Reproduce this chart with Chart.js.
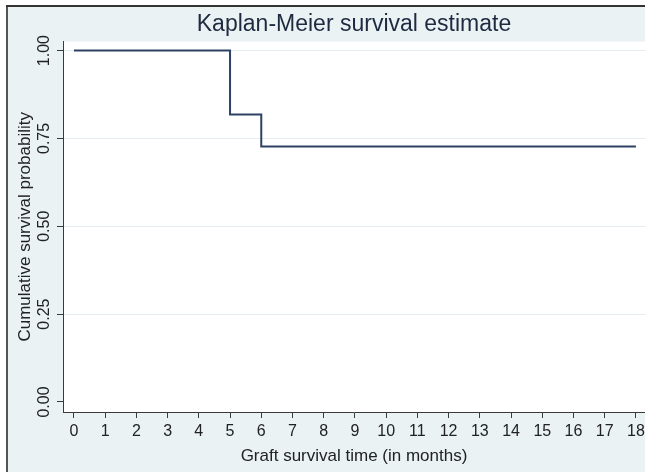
<!DOCTYPE html>
<html>
<head>
<meta charset="utf-8">
<title>Kaplan-Meier survival estimate</title>
<script src="https://cdn.jsdelivr.net/npm/chart.js@4.4.1/dist/chart.umd.min.js"></script>
<style>
    html, body { margin: 0; padding: 0; background: #ffffff; overflow: hidden; }
    canvas { display: block; }
</style>
</head>
<body>
<canvas id="kmChart" width="645" height="472"></canvas>
<script>
// Survival data (time in months, cumulative survival probability)
const eventTimes = [0, 5, 6, 18];
const survivalProb = [1.0, 0.818, 0.727, 0.727];

// Axis tick labels
const xTickValues = [0, 1, 2, 3, 4, 5, 6, 7, 8, 9, 10, 11, 12, 13, 14, 15, 16, 17, 18];
const yTickValues = [0, 0.25, 0.5, 0.75, 1.0];

const FONT_FAMILY = "'Liberation Sans', Arial, sans-serif";
const PANEL_BG = '#eaf2f4';
const AXIS_DARK = '#3a3a3a';

Chart.defaults.font.family = FONT_FAMILY;

// Paints the outer graph region, the white plot region and the frame
const backgroundPainter = {
    id: 'backgroundPainter',
    beforeDraw(chart) {
        const { ctx, width, height, chartArea } = chart;
        ctx.save();
        ctx.fillStyle = '#ffffff';
        ctx.fillRect(0, 0, width, height);
        ctx.fillStyle = PANEL_BG;
        ctx.fillRect(6, 6, width - 6, height - 6);
        ctx.fillStyle = '#ffffff';
        ctx.fillRect(chartArea.left, chartArea.top, chartArea.right - chartArea.left, chartArea.bottom - chartArea.top);
        ctx.fillStyle = '#555555';
        ctx.fillRect(6, 6, 2, height - 6);
        ctx.fillStyle = '#333333';
        ctx.fillRect(6, 5, width - 6, 2);
        ctx.restore();
    }
};

const ctx = document.getElementById('kmChart').getContext('2d');

new Chart(ctx, {
    type: 'line',
    data: {
        datasets: [{
            label: 'Survival',
            data: eventTimes.map((t, i) => ({ x: t, y: survivalProb[i] })),
            borderColor: '#2c4163',
            borderWidth: 2,
            pointRadius: 0,
            stepped: true,
            fill: false
        }]
    },
    plugins: [backgroundPainter],
    options: {
        responsive: false,
        animation: false,
        devicePixelRatio: 1,
        layout: { padding: 0 },
        plugins: {
            legend: { display: false },
            tooltip: { enabled: false },
            title: {
                display: true,
                text: 'Kaplan-Meier survival estimate',
                fullSize: false,
                color: '#1d2a40',
                font: { size: 23, weight: 'normal' },
                padding: { top: 11, bottom: 3 }
            }
        },
        scales: {
            x: {
                type: 'linear',
                min: -0.35,
                max: 18.29,
                afterBuildTicks: (scale) => { scale.ticks = xTickValues.map(v => ({ value: v })); },
                afterFit: (scale) => {
                    scale.height = 60;
                    // plot region runs to the right edge, label may be clipped
                    scale.paddingLeft = 0;
                    scale.paddingRight = 0;
                },
                ticks: {
                    includeBounds: false,
                    color: '#222222',
                    font: { size: 16 },
                    padding: 4,
                    maxRotation: 0,
                    autoSkip: false
                },
                grid: {
                    drawOnChartArea: false,
                    drawTicks: true,
                    tickLength: 6,
                    tickColor: AXIS_DARK
                },
                border: { display: true, color: AXIS_DARK, width: 1 },
                title: {
                    display: true,
                    text: 'Graft survival time (in months)',
                    color: '#222222',
                    font: { size: 17 },
                    padding: { top: 0, bottom: 5 }
                }
            },
            y: {
                type: 'linear',
                min: -0.0285,
                max: 1.0256,
                afterBuildTicks: (scale) => { scale.ticks = yTickValues.map(v => ({ value: v })); },
                afterFit: (scale) => {
                    scale.width = 63;
                    scale.paddingTop = 0;
                    scale.paddingBottom = 0;
                },
                ticks: {
                    color: '#222222',
                    font: { size: 16 },
                    minRotation: 90,
                    maxRotation: 90,
                    crossAlign: 'center',
                    padding: -3,
                    callback: (value) => Number(value).toFixed(2)
                },
                grid: {
                    color: (c) => (c.tick && c.tick.value === 0 ? 'rgba(0,0,0,0)' : '#e3ecf1'),
                    lineWidth: 1,
                    drawTicks: true,
                    tickLength: 6,
                    tickColor: AXIS_DARK
                },
                border: { display: true, color: AXIS_DARK, width: 1 },
                title: {
                    display: true,
                    text: 'Cumulative survival probability',
                    color: '#222222',
                    font: { size: 17 },
                    padding: { top: 15, bottom: 0 }
                }
            }
        }
    }
});
</script>
</body>
</html>
